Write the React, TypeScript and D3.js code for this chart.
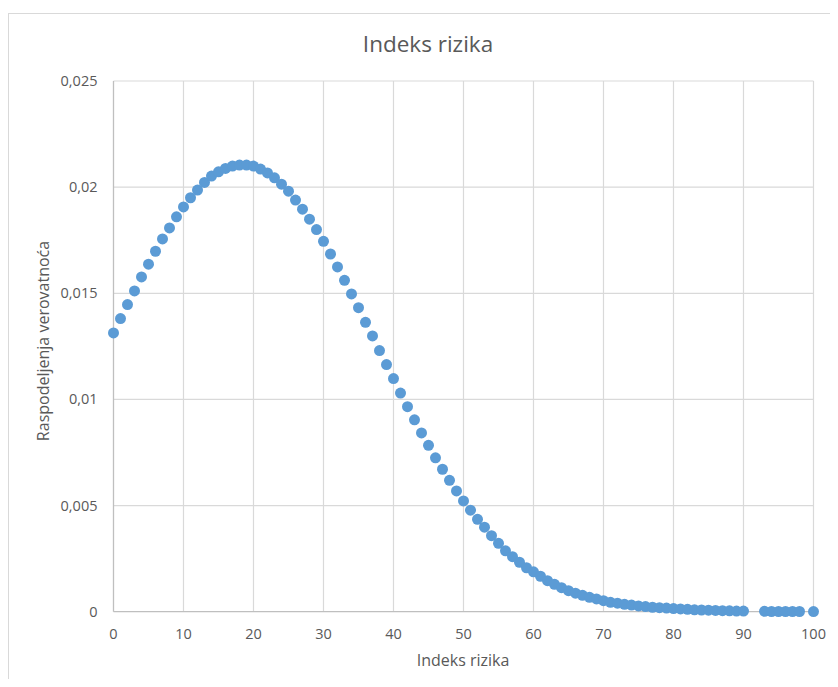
import React from 'react';
import * as d3 from 'd3';

// risk index values (91, 92 and 99 are absent in the source)
const riskIndex = [
  0, 1, 2, 3, 4, 5, 6, 7, 8, 9, 10, 11, 12, 13, 14, 15, 16, 17, 18, 19, 20,
  21, 22, 23, 24, 25, 26, 27, 28, 29, 30, 31, 32, 33, 34, 35, 36, 37, 38, 39, 40,
  41, 42, 43, 44, 45, 46, 47, 48, 49, 50, 51, 52, 53, 54, 55, 56, 57, 58, 59, 60,
  61, 62, 63, 64, 65, 66, 67, 68, 69, 70, 71, 72, 73, 74, 75, 76, 77, 78, 79, 80,
  81, 82, 83, 84, 85, 86, 87, 88, 89, 90, 93, 94, 95, 96, 97, 98, 100,
];

const probability = [
  0.01313, 0.01381, 0.01447, 0.01511, 0.01577, 0.01637, 0.01698, 0.01756, 0.01808, 0.0186,
  0.01907, 0.0195, 0.01986, 0.02022, 0.02052, 0.02072, 0.02088, 0.02099, 0.02104, 0.02104,
  0.02099, 0.02085, 0.02067, 0.02044, 0.02014, 0.01981, 0.01939, 0.01896, 0.01849, 0.018,
  0.01745, 0.01685, 0.01624, 0.01561, 0.01497, 0.01432, 0.01363, 0.01299, 0.0123, 0.01164,
  0.01098, 0.0103, 0.00966, 0.00904, 0.00842, 0.00784, 0.00725, 0.00671, 0.00619, 0.00569,
  0.00522, 0.00478, 0.00435, 0.00398, 0.00358, 0.00322, 0.00287, 0.00259, 0.00233, 0.00207,
  0.00188, 0.00167, 0.00146, 0.00129, 0.00113, 0.00099, 0.00087, 0.00077, 0.00068, 0.0006,
  0.00052, 0.00044, 0.0004, 0.00035, 0.00031, 0.00027, 0.00024, 0.00021, 0.00019, 0.00017,
  0.00015, 0.00013, 0.00011, 0.00009, 0.00008, 0.00007, 0.00006, 0.00005, 0.00004, 0.00003,
  0.00003, 0.00002, 0.00001, 0.00001, 0.00001, 0.00001, 0.00001, 0.000005,
];

const xTicks = [0, 10, 20, 30, 40, 50, 60, 70, 80, 90, 100];
const yTicks = [0, 0.005, 0.01, 0.015, 0.02, 0.025];
const yTickLabels = ['0', '0,005', '0,01', '0,015', '0,02', '0,025'];

const chartTitle = 'Indeks rizika';
const xTitle = 'Indeks rizika';
const yTitle = 'Raspodeljenja verovatnoća';

const FONT = '"Open Sans", sans-serif';
const TEXT = '#595959';

export default function App() {
  const width = 830;
  const height = 671;

  const x = d3.scaleLinear().domain([0, 100]).range([105.5, 805.5]);
  const y = d3.scaleLinear().domain([0, 0.025]).range([603.7, 73]);

  const points = riskIndex.map((r, i) => ({ r, p: probability[i] }));

  return (
    <svg width={width} height={height} style={{ display: 'block' }}>
      <rect x={0.5} y={5.5} width={width + 10} height={height + 20} fill="#fff" stroke="#d9d9d9" />

      <text x={420} y={44} textAnchor="middle" fontFamily={FONT} fontSize={22.5} fill={TEXT}>
        {chartTitle}
      </text>

      {/* grid */}
      {xTicks.slice(1).map(t => (
        <line key={'gx' + t} x1={x(t)} x2={x(t)} y1={y(0.025)} y2={y(0)} stroke="#d9d9d9" strokeWidth={1.2} />
      ))}
      {yTicks.slice(1).map(t => (
        <line key={'gy' + t} x1={x(0)} x2={x(100)} y1={y(t)} y2={y(t)} stroke="#d9d9d9" strokeWidth={1.2} />
      ))}

      {/* axes */}
      <line x1={x(0)} x2={x(100)} y1={y(0)} y2={y(0)} stroke="#bfbfbf" strokeWidth={1.3} />
      <line x1={x(0)} x2={x(0)} y1={y(0.025)} y2={y(0)} stroke="#bfbfbf" strokeWidth={1.3} />

      {yTicks.map((t, i) => (
        <text key={'ty' + t} x={89.5} y={y(t)} dy="0.35em" textAnchor="end" fontFamily={FONT} fontSize={14.5} fill={TEXT}>
          {yTickLabels[i]}
        </text>
      ))}
      {xTicks.map(t => (
        <text key={'tx' + t} x={x(t)} y={631} textAnchor="middle" fontFamily={FONT} fontSize={14.5} fill={TEXT}>
          {t}
        </text>
      ))}

      <text x={455} y={658} textAnchor="middle" fontFamily={FONT} fontSize={16} fill={TEXT}>
        {xTitle}
      </text>
      <text
        transform={`translate(41,${333}) rotate(-90)`}
        textAnchor="middle"
        fontFamily={FONT}
        fontSize={16}
        fill={TEXT}
      >
        {yTitle}
      </text>

      <g fill="#5b9bd5">
        {points.map(d => (
          <circle key={d.r} cx={x(d.r)} cy={y(d.p)} r={5.5} />
        ))}
      </g>
    </svg>
  );
}
